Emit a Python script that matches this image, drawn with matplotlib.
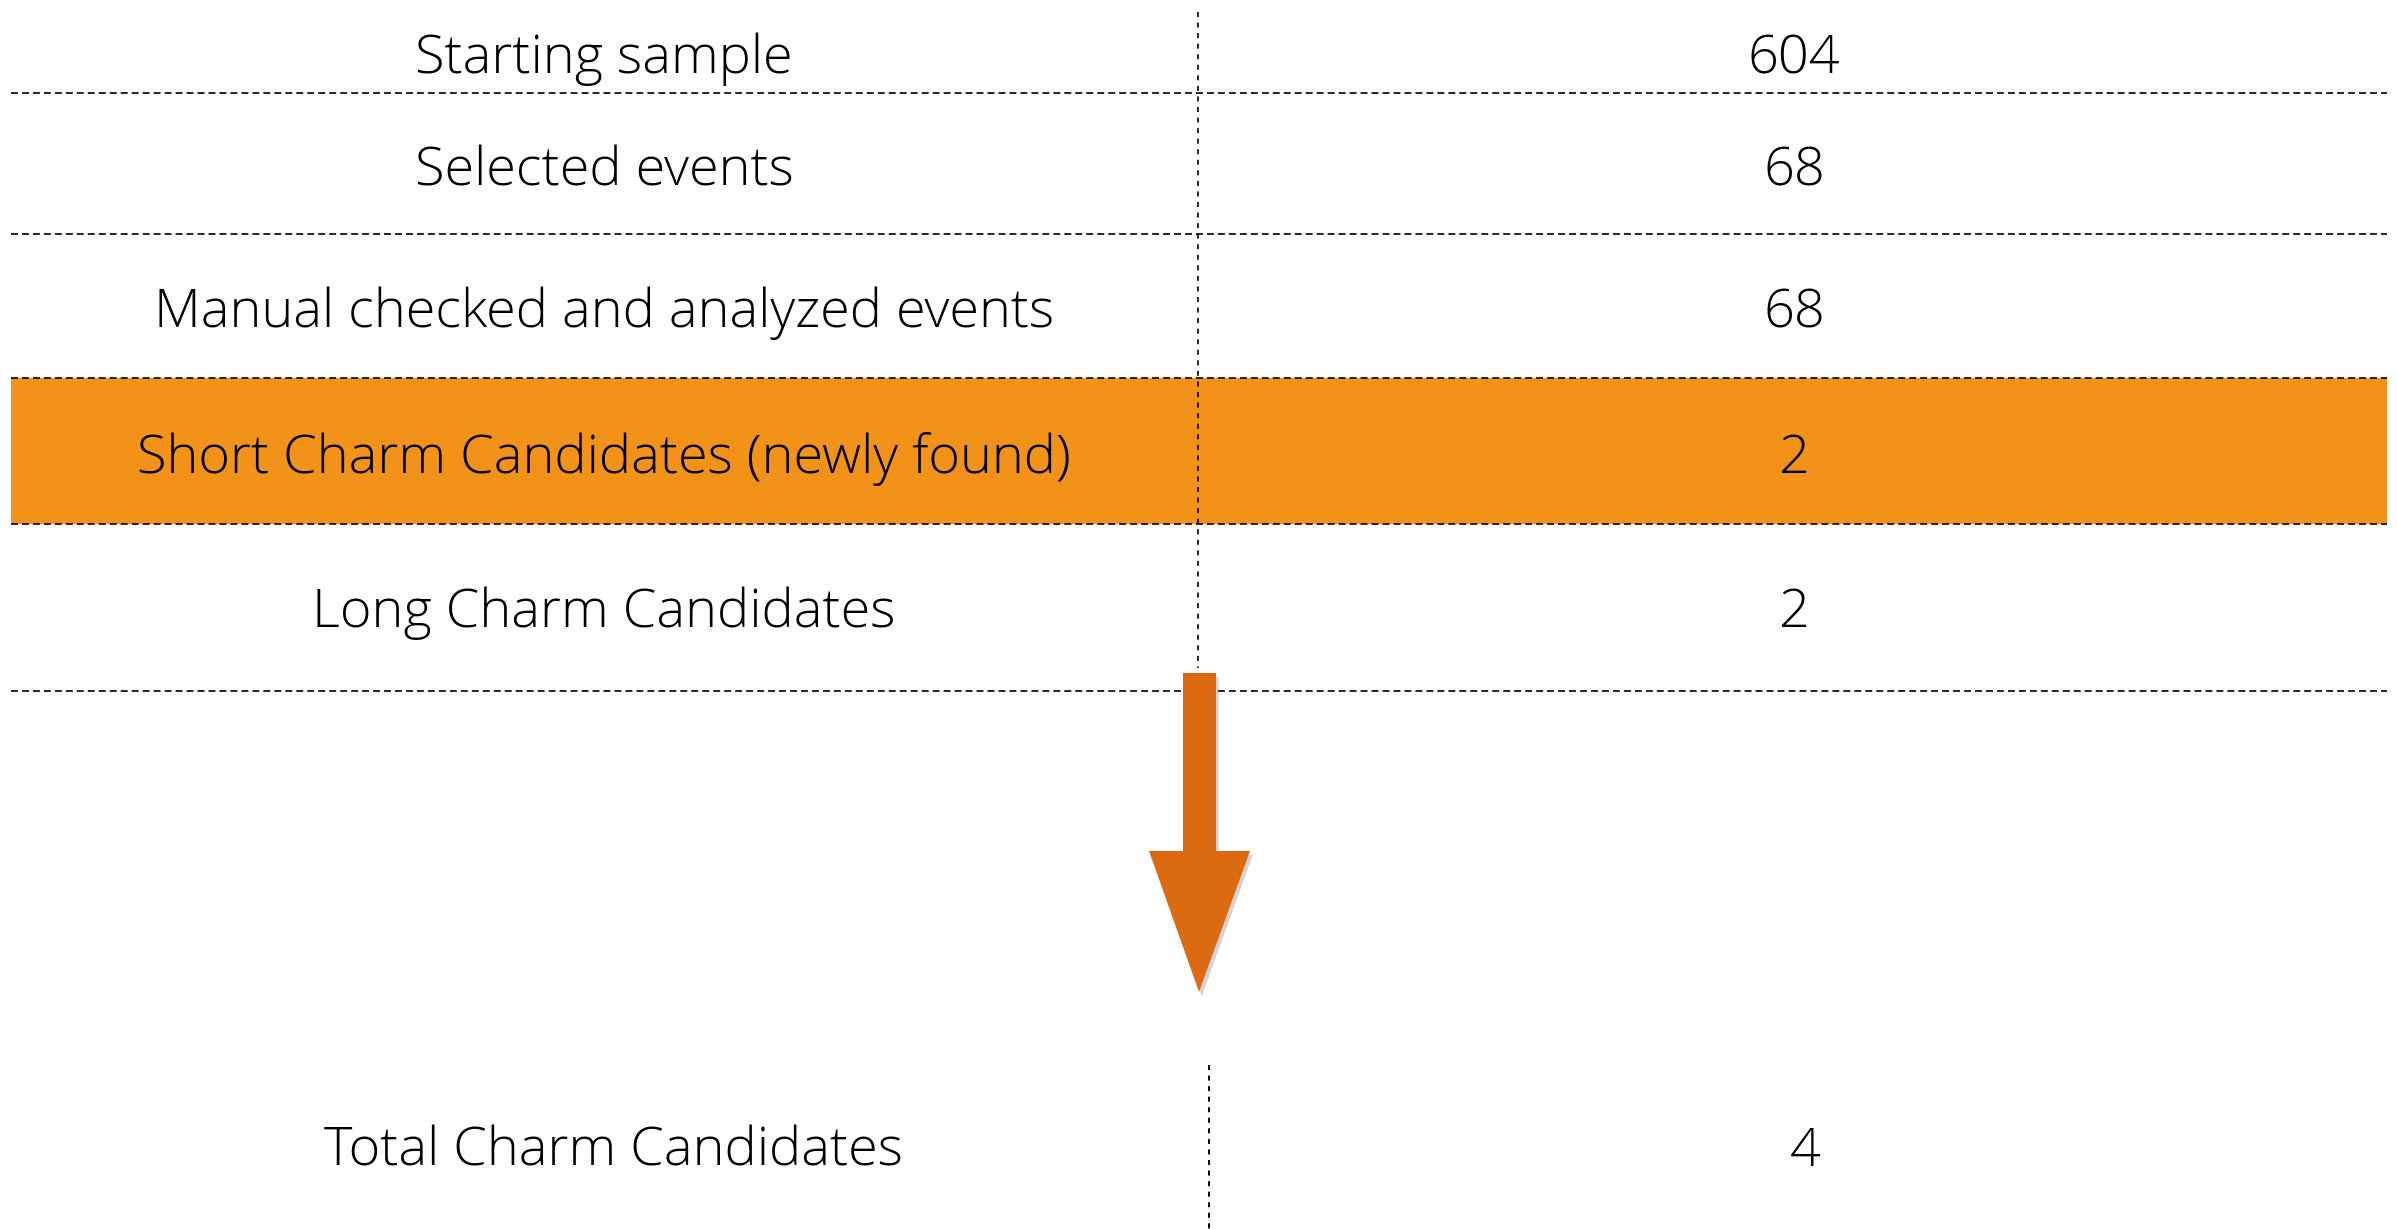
import matplotlib
matplotlib.use("Agg")
import matplotlib.pyplot as plt
import matplotlib.patches as patches
import matplotlib.patheffects as pe

plt.rcParams["lines.scale_dashes"] = False

# -- table content
steps = ["Starting sample", "Selected events", "Manual checked and analyzed events",
         "Short Charm Candidates (newly found)", "Long Charm Candidates"]
counts = [604, 68, 68, 2, 2]
highlight = [False, False, False, True, False]
total_label = "Total Charm Candidates"
total_count = sum(counts[3:])

# -- layout (pixels, full size image)
W, H = 2397, 1229
row_baseline = [73, 185, 327, 473, 627]
row_lines = [93, 234, 378, 524, 691]
label_x, value_x = 604, 1794
split_x = 1198
orange = "#F39219"
arrow_col = "#DC6A10"
font = dict(family="Open Sans", weight="light", fontsize=39, color="black")

fig = plt.figure(figsize=(W / 100., H / 100.), dpi=100)
ax = fig.add_axes([0, 0, 1, 1])
ax.set_xlim(0, W)
ax.set_ylim(H, 0)
ax.axis("off")

hdash = (0, (5, 2.9))
vdash = (0, (3.6, 4))

for idx, (name, val) in enumerate(zip(steps, counts)):
    if highlight[idx]:
        top = row_lines[idx - 1]
        ax.add_patch(patches.Rectangle((11, top), 2376, row_lines[idx] - top,
                                       facecolor=orange, edgecolor="none", zorder=0))
    ax.text(label_x, row_baseline[idx], name, ha="center", va="baseline", **font)
    ax.text(value_x, row_baseline[idx], str(val), ha="center", va="baseline", **font)

for yy in row_lines:
    ax.plot([11, 2387], [yy, yy], color="black", lw=1.2, ls=hdash, zorder=2)

# vertical separators
ax.plot([split_x, split_x], [12, 668], color="black", lw=1.2, ls=vdash, zorder=2)
ax.plot([1209, 1209], [1065, H], color="black", lw=1.4, ls=vdash, zorder=2)

# big arrow
arrow = patches.Polygon([(1183, 673), (1216, 673), (1216, 851), (1250, 851),
                         (1199, 992), (1149, 851), (1183, 851)],
                        closed=True, facecolor=arrow_col, edgecolor="none", zorder=3)
arrow.set_path_effects([pe.SimplePatchShadow(offset=(2, -3), shadow_rgbFace="grey", alpha=0.35),
                        pe.Normal()])
ax.add_patch(arrow)

ax.text(613, 1166, total_label, ha="center", va="baseline", **font)
ax.text(1805, 1166, str(total_count), ha="center", va="baseline", **font)

fig.savefig("out.png", dpi=100, facecolor="white")
